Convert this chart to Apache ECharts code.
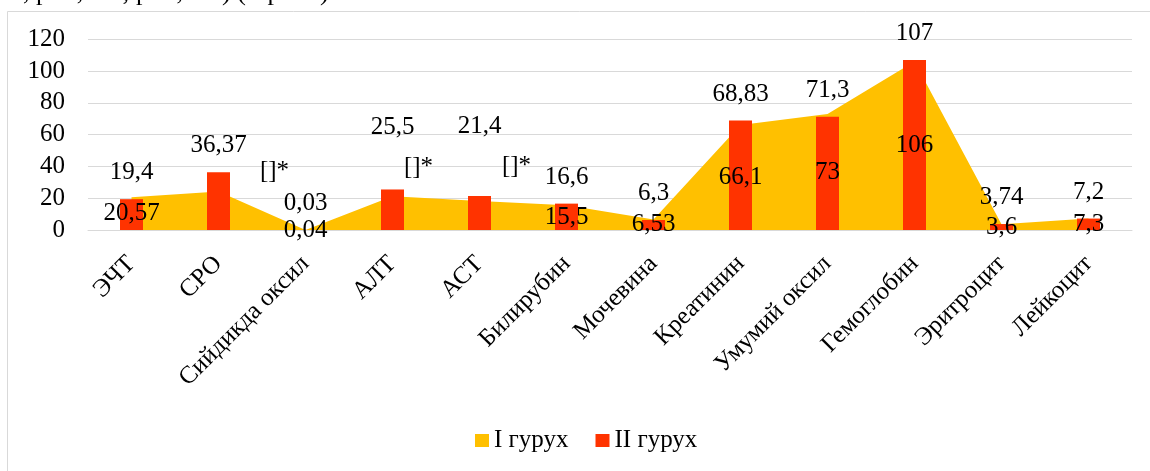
<!DOCTYPE html>
<html>
<head>
<meta charset="utf-8">
<script src="https://cdn.jsdelivr.net/npm/echarts@6/dist/echarts.min.js"></script>
<style>
  html, body { margin: 0; padding: 0; background: #fff; }
  #chart { width: 1150px; height: 471px; }
</style>
</head>
<body>
<div id="chart"></div>
<script>
const categories = ['ЭЧТ', 'СРО', 'Сийдикда оксил', 'АЛТ', 'АСТ', 'Билирубин', 'Мочевина', 'Креатинин', 'Умумий оксил', 'Гемоглобин', 'Эритроцит', 'Лейкоцит'];
const group1 = [20.57, 24.2, 0.04, 21.2, 18.3, 15.5, 6.53, 66.1, 73, 106, 3.6, 7.3];
const group2 = [19.4, 36.37, 0.03, 25.5, 21.4, 16.6, 6.3, 68.83, 71.3, 107, 3.74, 7.2];
const group1MissingLabel = [1, 3, 4];
const seriesNames = ['I гурух', 'II гурух'];
const yTicks = { min: 0, max: 120, interval: 20 };

const FONT = 'Liberation Serif';
const fmt = v => String(v).replace('.', ',');

// per-point label tweaks (placement only)
const missingOffsets = { 1: [56, -39], 3: [26, -46], 4: [37, -49] };
const barLabelDistance = { 3: 50, 4: 57 };

const chart = echarts.init(document.getElementById('chart'));

const option = {
  animation: false,
  backgroundColor: '#fff',
  graphic: [
    {
      type: 'rect', silent: true, z: -10,
      shape: { x: 7.5, y: 11.5, width: 1300, height: 600 },
      style: { fill: 'none', stroke: '#d9d9d9', lineWidth: 1 }
    },
    {
      type: 'text', silent: true,
      left: -3, top: -20,
      style: { text: '05, р<0,005; р<0,005) (4-расм).', fontFamily: FONT, fontSize: 26, fill: '#000' }
    }
  ],
  grid: { left: 88, right: 18, top: 39.3, bottom: 241, containLabel: false },
  legend: {
    data: seriesNames,
    left: 475, top: 428,
    icon: 'rect', itemWidth: 14, itemHeight: 13, itemGap: 27,
    padding: 0,
    textStyle: { fontFamily: FONT, fontSize: 25, color: '#000' }
  },
  xAxis: {
    type: 'category',
    data: categories,
    boundaryGap: true,
    axisLine: { show: true, lineStyle: { color: '#d9d9d9', width: 1 } },
    axisTick: { show: false },
    axisLabel: { rotate: 45, interval: 0, margin: 30, fontFamily: FONT, fontSize: 25, color: '#000' },
    splitLine: { show: false }
  },
  yAxis: {
    type: 'value',
    min: yTicks.min, max: yTicks.max, interval: yTicks.interval,
    axisLine: { show: false },
    axisTick: { show: false },
    axisLabel: { margin: 23, fontFamily: FONT, fontSize: 25, color: '#000' },
    splitLine: { show: true, lineStyle: { color: '#d9d9d9', width: 1 } }
  },
  series: [
    {
      name: seriesNames[0],
      type: 'line',
      data: group1,
      symbol: 'none',
      smooth: false,
      lineStyle: { width: 0, color: '#FFC000' },
      itemStyle: { color: '#FFC000' },
      areaStyle: { color: '#FFC000', opacity: 1 },
      z: 1
    },
    {
      name: seriesNames[1],
      type: 'bar',
      data: group2.map((v, i) => ({
        value: v,
        label: barLabelDistance[i] !== undefined ? { distance: barLabelDistance[i] } : undefined
      })),
      barWidth: 23,
      itemStyle: { color: '#FF3300' },
      label: {
        show: true, position: 'top', distance: 14,
        fontFamily: FONT, fontSize: 25, color: '#000',
        formatter: p => fmt(p.value)
      },
      z: 2
    },
    {
      name: 'group1-labels',
      type: 'bar',
      data: group1.map((v, i) => {
        const item = { value: v };
        if (group1MissingLabel.includes(i)) {
          item.label = { formatter: '[]*', offset: missingOffsets[i] };
        }
        return item;
      }),
      barWidth: 23,
      barGap: '-100%',
      itemStyle: { color: 'rgba(0,0,0,0)' },
      label: {
        show: true, position: 'inside',
        fontFamily: FONT, fontSize: 25, color: '#000',
        formatter: p => fmt(p.value)
      },
      silent: true,
      z: 3
    }
  ]
};

chart.setOption(option);
</script>
</body>
</html>
